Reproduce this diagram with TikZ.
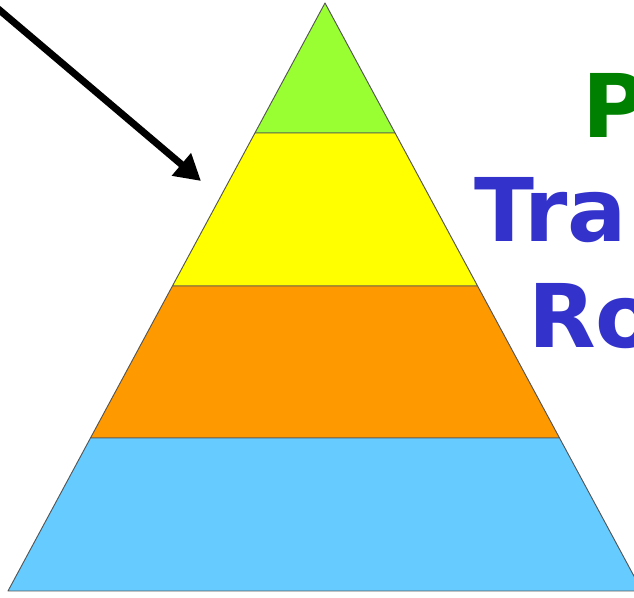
\documentclass[tikz,border=0pt]{standalone}
\usepackage{fontspec}
\setmainfont{DejaVu Sans}
\usetikzlibrary{arrows.meta,calc}
\definecolor{pyrgreen}{HTML}{99FF33}
\definecolor{pyryellow}{HTML}{FFFF00}
\definecolor{pyrorange}{HTML}{FF9900}
\definecolor{pyrblue}{HTML}{66CCFF}
\definecolor{pyredge}{HTML}{555555}
\definecolor{txtgreen}{HTML}{008000}
\definecolor{txtblue}{HTML}{3333CC}

\begin{document}
\begin{tikzpicture}[
    x=0.03cm, y=-0.03cm,
    layer/.style = {draw=pyredge, line width=0.8pt, line join=round},
    big/.style   = {font=\fontsize{75}{90}\selectfont\bfseries, inner sep=0pt, anchor=base west},
    pointer/.style = {-{Triangle[length=22pt,width=24pt]}, line width=6pt, black},
  ]
  \useasboundingbox (0,0) rectangle (634,598);

  % Ecken der Pyramide
  \coordinate (apex) at (325,3);
  \coordinate (bl)   at (8,591);
  \coordinate (br)   at (642,591);
  \coordinate (l1) at ($(apex)!0.2211!(bl)$);  \coordinate (r1) at ($(apex)!0.2211!(br)$);
  \coordinate (l2) at ($(apex)!0.4813!(bl)$);  \coordinate (r2) at ($(apex)!0.4813!(br)$);
  \coordinate (l3) at ($(apex)!0.7398!(bl)$);  \coordinate (r3) at ($(apex)!0.7398!(br)$);

  \filldraw[layer,fill=pyrgreen]  (apex) -- (l1) -- (r1) -- cycle;
  \filldraw[layer,fill=pyryellow] (l1) -- (l2) -- (r2) -- (r1) -- cycle;
  \filldraw[layer,fill=pyrorange] (l2) -- (l3) -- (r3) -- (r2) -- cycle;
  \filldraw[layer,fill=pyrblue]   (l3) -- (bl) -- (br) -- (r3) -- cycle;

  % Pfeil
  \coordinate (from) at (-10,2);
  \coordinate (tip)  at (201,181);
  \draw[pointer] (from) -- (tip);

  % Text rechts
  \node[big,text=txtgreen] (t1) at (582,138) {P};
  \node[big,text=txtblue]  (t2) at (474,242) {Tra};
  \node[big,text=txtblue]  (t3) at (528,348) {Ro};
\end{tikzpicture}
\end{document}
